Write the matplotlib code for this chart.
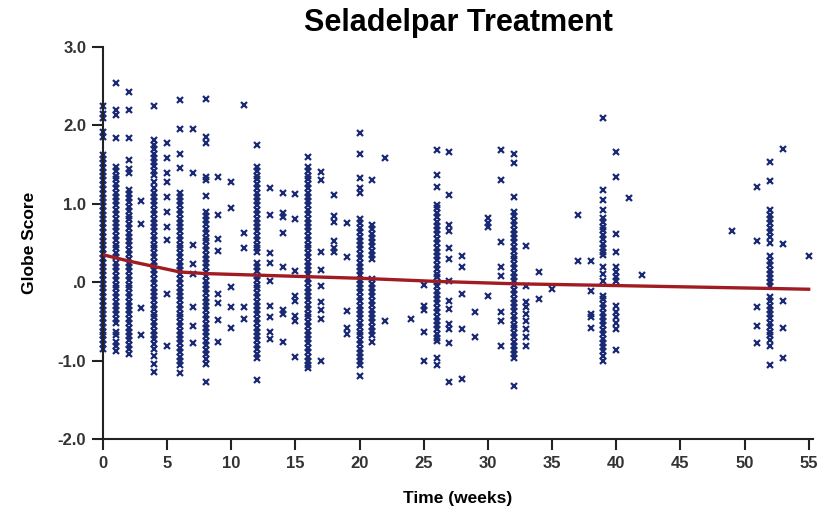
import numpy as np
import matplotlib
matplotlib.use('Agg')
import matplotlib.pyplot as plt

plt.rcParams['font.family'] = ['Liberation Sans', 'DejaVu Sans']

# Globe score readings per visit week
w0 = [2.25, 2.15, 2.09, 1.92, 1.85, 1.62, 1.57, 1.52, 1.46, 1.41, 1.35, 1.3, 1.24, 1.19, 1.13, 1.08, 1.02, 0.97,
      0.91, 0.86, 0.8, 0.75, 0.69, 0.64, 0.58, 0.53, 0.47, 0.42, 0.36, 0.31, 0.25, 0.2, 0.14, 0.09, 0.03, -0.02,
      -0.08, -0.13, -0.19, -0.24, -0.3, -0.35, -0.41, -0.46, -0.52, -0.57, -0.63, -0.68, -0.74, -0.79, -0.85]
w1 = [2.54, 2.19, 2.13, 1.84, 1.47, 1.42, 1.36, 1.31, 1.25, 1.2, 1.14, 1.09, 1.03, 0.98, 0.92, 0.87, 0.81, 0.76,
      0.7, 0.65, 0.59, 0.54, 0.48, 0.43, 0.37, 0.32, 0.25, 0.19, 0.14, 0.08, 0.03, -0.03, -0.08, -0.14, -0.19,
      -0.25, -0.3, -0.36, -0.41, -0.47, -0.52, -0.63, -0.68, -0.76, -0.81, -0.88]
w2 = [2.42, 2.19, 1.84, 1.56, 1.45, 1.39, 1.18, 1.13, 1.07, 1.02, 0.96, 0.91, 0.85, 0.8, 0.74, 0.69, 0.63, 0.58,
      0.52, 0.47, 0.41, 0.36, 0.3, 0.25, 0.19, 0.14, 0.08, 0.03, -0.03, -0.08, -0.14, -0.19, -0.25, -0.3, -0.36,
      -0.41, -0.47, -0.52, -0.58, -0.63, -0.69, -0.74, -0.8, -0.85, -0.91]
w3 = [1.03, 0.74, -0.33, -0.68]
w4 = [2.25, 1.81, 1.75, 1.7, 1.64, 1.59, 1.53, 1.48, 1.42, 1.37, 1.28, 1.2, 1.14, 1.09, 1.03, 0.98, 0.92, 0.87,
      0.81, 0.76, 0.7, 0.65, 0.59, 0.54, 0.48, 0.43, 0.37, 0.32, 0.26, 0.21, 0.15, 0.1, 0.04, -0.01, -0.07, -0.12,
      -0.18, -0.23, -0.29, -0.34, -0.4, -0.45, -0.51, -0.56, -0.62, -0.67, -0.73, -0.79, -0.85, -0.94, -1.04, -1.14]
w5 = [1.77, 1.58, 1.39, 1.28, 1.09, 0.9, 0.71, 0.54, -0.15, -0.81]
w6 = [2.32, 1.96, 1.64, 1.46, 1.14, 1.09, 1.03, 0.98, 0.92, 0.87, 0.81, 0.76, 0.7, 0.65, 0.59, 0.54, 0.48, 0.43,
      0.37, 0.32, 0.26, 0.21, 0.15, 0.1, 0.04, -0.01, -0.07, -0.12, -0.18, -0.23, -0.29, -0.34, -0.4, -0.45, -0.51,
      -0.56, -0.62, -0.67, -0.73, -0.78, -0.84, -0.89, -0.95, -1.0, -1.06, -1.16]
w7 = [1.96, 1.39, 0.48, 0.23, 0.1, -0.32, -0.56, -0.77]
w8 = [2.34, 1.85, 1.77, 1.34, 1.3, 1.1, 0.9, 0.85, 0.79, 0.74, 0.68, 0.63, 0.57, 0.52, 0.46, 0.41, 0.35, 0.3,
      0.24, 0.19, 0.13, 0.08, 0.02, -0.03, -0.09, -0.14, -0.2, -0.25, -0.31, -0.36, -0.42, -0.47, -0.53, -0.58,
      -0.64, -0.69, -0.75, -0.8, -0.86, -0.92, -0.98, -1.04, -1.27]
w9 = [1.34, 0.86, 0.55, 0.4, -0.15, -0.27, -0.48, -0.76]
w10 = [1.28, 0.95, -0.06, -0.32, -0.59]
w11 = [2.26, 0.63, 0.44, -0.32, -0.47]
w12 = [1.75, 1.47, 1.42, 1.36, 1.31, 1.25, 1.2, 1.14, 1.09, 1.03, 0.98, 0.92, 0.87, 0.81, 0.76, 0.7, 0.65, 0.59,
       0.54, 0.48, 0.43, 0.38, 0.25, 0.19, 0.14, 0.08, 0.03, -0.03, -0.08, -0.14, -0.19, -0.25, -0.3, -0.36, -0.41,
       -0.47, -0.52, -0.58, -0.63, -0.69, -0.74, -0.8, -0.85, -0.91, -0.97, -1.25]
w13 = [1.2, 0.86, 0.37, 0.25, 0.02, -0.3, -0.44, -0.63, -0.72]
w14 = [1.14, 0.88, 0.83, 0.63, 0.19, -0.36, -0.41, -0.76]
w15 = [1.12, 0.81, 0.14, -0.17, -0.24, -0.43, -0.49, -0.96]
w16 = [1.6, 1.47, 1.42, 1.36, 1.31, 1.25, 1.2, 1.14, 1.09, 1.03, 0.98, 0.92, 0.87, 0.81, 0.76, 0.7, 0.65, 0.59,
       0.54, 0.48, 0.43, 0.37, 0.32, 0.26, 0.21, 0.15, 0.1, 0.04, -0.01, -0.07, -0.12, -0.18, -0.23, -0.29, -0.34,
       -0.4, -0.45, -0.51, -0.56, -0.62, -0.67, -0.73, -0.78, -0.84, -0.89, -0.95, -1.0, -1.05, -1.1]
w17 = [1.41, 1.3, 0.38, 0.16, -0.05, -0.25, -0.35, -0.47, -1.0]
w18 = [1.11, 0.84, 0.77, 0.52, 0.44, 0.38]
w19 = [0.76, 0.32, -0.37, -0.58, -0.66]
w20 = [1.9, 1.64, 1.33, 1.2, 1.14, 0.8, 0.75, 0.69, 0.64, 0.58, 0.53, 0.47, 0.42, 0.36, 0.31, 0.25, 0.2, 0.14,
       0.09, 0.03, -0.02, -0.08, -0.13, -0.19, -0.24, -0.3, -0.35, -0.41, -0.46, -0.52, -0.57, -0.63, -0.68, -0.74,
       -0.79, -0.85, -0.9, -0.96, -1.01, -1.06, -1.2]
w21 = [1.3, 0.73, 0.68, 0.62, 0.57, 0.51, 0.46, 0.4, 0.35, 0.29, 0.04, -0.02, -0.07, -0.13, -0.18, -0.24, -0.29,
       -0.35, -0.4, -0.46, -0.51, -0.57, -0.62, -0.68, -0.76]
w22 = [1.58, -0.49]
w24 = [-0.47]
w25 = [-0.03, -0.3, -0.36, -0.63, -1.0]
w26 = [1.68, 1.37, 1.22, 0.99, 0.94, 0.88, 0.83, 0.77, 0.72, 0.66, 0.61, 0.55, 0.5, 0.44, 0.39, 0.33, 0.28, 0.22,
       0.17, 0.11, 0.06, 0.0, -0.05, -0.11, -0.16, -0.22, -0.27, -0.33, -0.38, -0.44, -0.49, -0.55, -0.6, -0.66,
       -0.71, -0.75, -0.97, -1.06]
w27 = [1.66, 1.11, 0.73, 0.65, 0.44, 0.29, 0.01, -0.24, -0.34, -0.53, -0.6, -0.78, -1.27]
w28 = [0.33, 0.2, -0.15, -0.6, -1.23]
w29 = [-0.38, -0.7]
w30 = [0.82, 0.75, 0.7, -0.17]
w31 = [1.68, 1.3, 0.51, 0.2, 0.08, -0.38, -0.5, -0.82]
w32 = [1.64, 1.52, 1.09, 0.89, 0.84, 0.78, 0.73, 0.67, 0.62, 0.56, 0.51, 0.45, 0.4, 0.34, 0.29, 0.23, 0.18, 0.12,
       0.07, 0.01, -0.04, -0.1, -0.15, -0.21, -0.26, -0.32, -0.37, -0.43, -0.48, -0.54, -0.59, -0.65, -0.7, -0.76,
       -0.81, -0.87, -0.92, -0.97, -1.32]
w33 = [0.46, -0.05, -0.25, -0.32, -0.4, -0.5, -0.6, -0.7, -0.82]
w34 = [0.13, -0.22]
w35 = [-0.09]
w37 = [0.86, 0.27]
w38 = [0.27, -0.11, -0.4, -0.44, -0.58]
w39 = [2.09, 1.18, 1.05, 0.92, 0.82, 0.77, 0.71, 0.66, 0.6, 0.55, 0.49, 0.44, 0.39, 0.35, 0.19, 0.1, 0.01, -0.17,
       -0.22, -0.28, -0.33, -0.39, -0.44, -0.5, -0.55, -0.61, -0.66, -0.72, -0.77, -0.83, -0.88, -0.94, -1.01]
w40 = [1.66, 1.34, 0.62, 0.39, 0.2, 0.13, 0.06, 0.01, -0.3, -0.38, -0.45, -0.52, -0.6, -0.87]
w41 = [1.08]
w42 = [0.09]
w49 = [0.65]
w51 = [1.22, 0.53, -0.32, -0.56, -0.78]
w52 = [1.53, 1.29, 0.92, 0.86, 0.8, 0.75, 0.69, 0.64, 0.58, 0.5, 0.33, 0.27, 0.22, 0.16, 0.11, 0.05, 0.0, -0.05,
       -0.19, -0.24, -0.3, -0.35, -0.41, -0.46, -0.52, -0.57, -0.63, -0.68, -0.74, -0.81, -1.05]
w53 = [1.7, 0.49, -0.24, -0.58, -0.97]
w55 = [0.34]

visits = [(0, w0), (1, w1), (2, w2), (3, w3), (4, w4), (5, w5), (6, w6), (7, w7), (8, w8), (9, w9),
          (10, w10), (11, w11), (12, w12), (13, w13), (14, w14), (15, w15), (16, w16), (17, w17),
          (18, w18), (19, w19), (20, w20), (21, w21), (22, w22), (24, w24), (25, w25), (26, w26),
          (27, w27), (28, w28), (29, w29), (30, w30), (31, w31), (32, w32), (33, w33), (34, w34),
          (35, w35), (37, w37), (38, w38), (39, w39), (40, w40), (41, w41), (42, w42), (49, w49),
          (51, w51), (52, w52), (53, w53), (55, w55)]

# smoothed fit line
trend_weeks = [0, 1, 2, 4, 6, 8, 12, 16, 20, 26, 32, 39, 52, 55]
trend_score = [0.35, 0.31, 0.27, 0.2, 0.13, 0.11, 0.09, 0.07, 0.05, 0.01, -0.02, -0.04, -0.08, -0.09]

ytick_vals = [3.0, 2.0, 1.0, 0.0, -1.0, -2.0]
ytick_labels = ['3.0', '2.0', '1.0', '.0', '-1.0', '-2.0']
xtick_vals = [0, 5, 10, 15, 20, 25, 30, 35, 40, 45, 50, 55]

x = []
y = []
for wk, vals in visits:
    x += [wk] * len(vals)
    y += vals

fig = plt.figure(figsize=(8.18, 5.17), dpi=100)
ax = fig.add_axes([0.1259, 0.1509, 0.8674, 0.7582])

ax.plot(x, y, linestyle='none', marker='x', markersize=4.8, markeredgewidth=1.6,
        color='#1b2a74', clip_on=False, zorder=2)
ax.plot(trend_weeks, trend_score, color='#a01c22', linewidth=2.4, zorder=3)

ax.set_xlim(0, 55.3)
ax.set_ylim(-2.0, 3.0)
ax.set_xticks(xtick_vals)
ax.set_yticks(ytick_vals)
ax.set_yticklabels(ytick_labels)

for s in ['top', 'right']:
    ax.spines[s].set_visible(False)
for s in ['left', 'bottom']:
    ax.spines[s].set_linewidth(1.5)
    ax.spines[s].set_color('#222222')

ax.tick_params(axis='both', direction='out', length=8, width=1.5, color='#222222',
               labelsize=12, pad=4)
for lab in ax.get_xticklabels() + ax.get_yticklabels():
    lab.set_fontweight('bold')
    lab.set_color('#333333')

ax.set_xlabel('Time (weeks)', fontsize=12.5, fontweight='bold', labelpad=15)
ax.set_ylabel('Globe Score', fontsize=12.5, fontweight='bold', labelpad=15)
fig.text(0.56, 0.955, 'Seladelpar Treatment', fontsize=22, fontweight='bold',
         ha='center', va='center')

fig.savefig('out.png', dpi=100)
